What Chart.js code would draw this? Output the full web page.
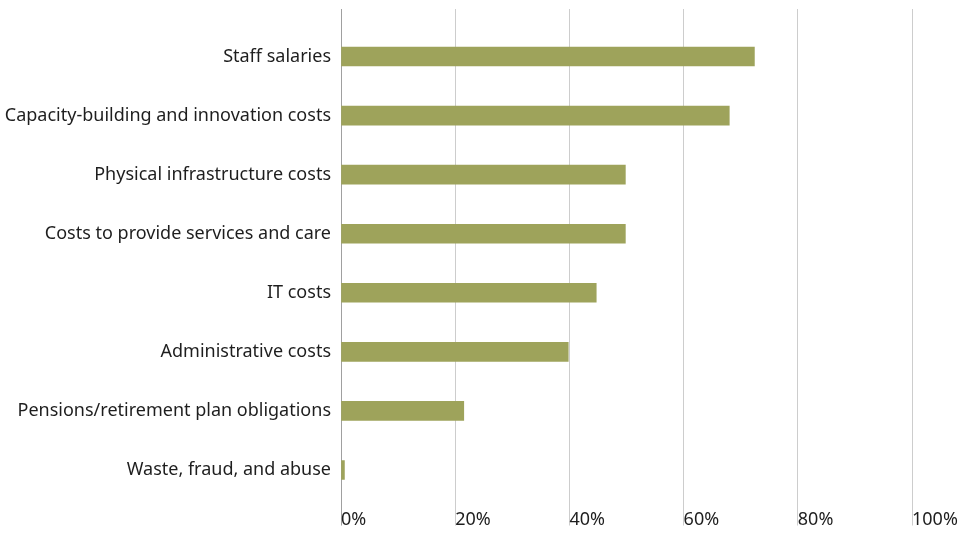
<!DOCTYPE html>
<html>
<head>
<meta charset="utf-8">
<script src="https://cdn.jsdelivr.net/npm/chart.js@4/dist/chart.umd.min.js"></script>
<style>
    html, body { margin: 0; padding: 0; background: #ffffff; }
    #wrap { position: relative; width: 966px; height: 534px; }
</style>
</head>
<body>
<div id="wrap"><canvas id="costChart"></canvas></div>
<script>
const categories = [
    'Staff salaries',
    'Capacity-building and innovation costs',
    'Physical infrastructure costs',
    'Costs to provide services and care',
    'IT costs',
    'Administrative costs',
    'Pensions/retirement plan obligations',
    'Waste, fraud, and abuse'
];
const shareValues = [72.4, 68.0, 49.8, 49.8, 44.7, 39.8, 21.5, 0.6];
const tickValues = [0, 20, 40, 60, 80, 100];

window.addEventListener('DOMContentLoaded', function () {
    const textColor = '#1e1e1e';
    const labelFont = { family: '"Noto Sans", "Open Sans", sans-serif', size: 18 };

    function gridColor(ctx) {
        return ctx.tick && ctx.tick.value === 0 ? '#a0a0a0' : '#cdcdcd';
    }

    function fixedTicks(scale) {
        scale.ticks = tickValues.map(function (v) { return { value: v }; });
    }

    new Chart(document.getElementById('costChart'), {
        type: 'bar',
        data: {
            labels: categories,
            datasets: [{
                label: 'Share',
                data: shareValues,
                backgroundColor: '#9ea35b',
                barThickness: 19
            }]
        },
        options: {
            indexAxis: 'y',
            responsive: true,
            maintainAspectRatio: false,
            animation: false,
            layout: { padding: { top: 9, right: 54, bottom: 0, left: 0 } },
            plugins: {
                legend: { display: false },
                tooltip: { enabled: false }
            },
            scales: {
                x: {
                    position: 'bottom',
                    min: 0,
                    max: 100,
                    afterBuildTicks: fixedTicks,
                    afterFit: function (scale) { scale.height = 34.5; },
                    grid: { color: gridColor, lineWidth: 1, tickLength: 26 },
                    border: { display: false },
                    ticks: {
                        align: 'start',
                        padding: -16,
                        color: textColor,
                        font: labelFont,
                        callback: function (v) { return v + '%'; }
                    }
                },
                xTop: {
                    type: 'linear',
                    position: 'top',
                    min: 0,
                    max: 100,
                    afterBuildTicks: fixedTicks,
                    grid: { color: gridColor, lineWidth: 1, tickLength: 18, drawOnChartArea: false },
                    border: { display: false },
                    ticks: { display: false }
                },
                y: {
                    afterFit: function (scale) { scale.width = 341; },
                    grid: { display: false, drawTicks: false },
                    border: { display: false },
                    ticks: { color: textColor, font: labelFont, padding: 10 }
                }
            }
        }
    });
});
</script>
</body>
</html>
